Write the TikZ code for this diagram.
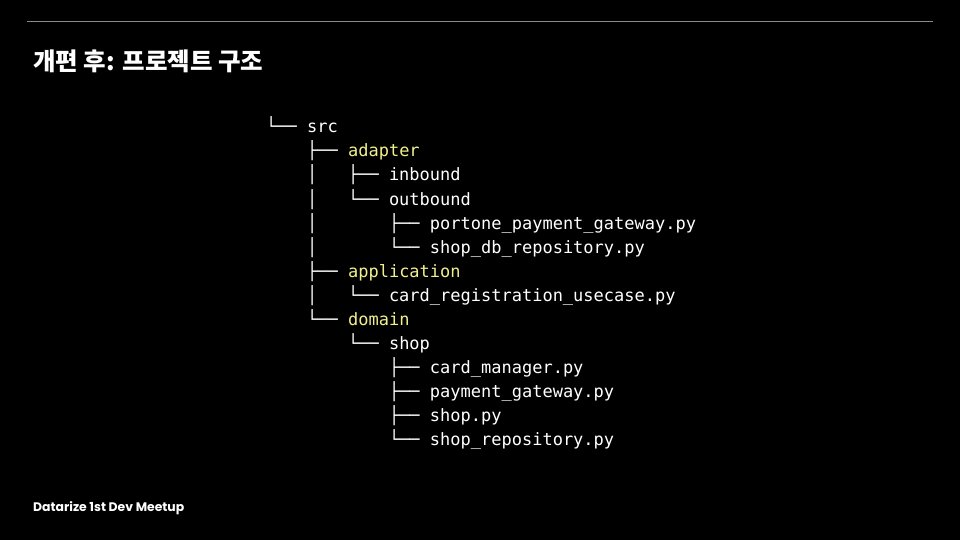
\documentclass[tikz,border=0pt]{standalone}
\usepackage{fontspec}
\newfontfamily\krfont{Noto Sans CJK KR}
\newfontfamily\monofont{DejaVu Sans Mono}
\newfontfamily\footfont{Poppins}
\definecolor{folder}{HTML}{F2F08C}
\definecolor{rule}{HTML}{8A8A8A}
\tikzset{
  treeline/.style={anchor=base west, inner sep=0pt, text=white,
    font=\monofont\fontsize{17}{24}\selectfont},
  titletext/.style={anchor=base west, inner sep=0pt, text=white,
    font=\krfont\bfseries\fontsize{24.5}{28}\selectfont},
  foottext/.style={anchor=base west, inner sep=0pt, text=white,
    font=\footfont\bfseries\fontsize{12.4}{14}\selectfont}
}
\newcommand{\fd}[1]{\textcolor{folder}{#1}}
\begin{document}
\begin{tikzpicture}[x=1pt,y=-1pt]
\fill[black] (0,0) rectangle (960,540);
\useasboundingbox (0,0) rectangle (960,540);
\coordinate (ruleL) at (27,22);
\coordinate (ruleR) at (933,22);
\draw[rule, line width=1pt] (ruleL) -- (ruleR);
\node[titletext] (title) at (33,70.5) {개편 후: 프로젝트 구조};
\node[foottext] (foot) at (33,511) {Datarize 1st Dev Meetup};
\node[treeline] (l1)  at (266,133) {└── src};
\node[treeline] (l2)  at (266,157) {\ \ \ \ ├── \fd{adapter}};
\node[treeline] (l3)  at (266,181) {\ \ \ \ │\ \ \ ├── inbound};
\node[treeline] (l4)  at (266,205) {\ \ \ \ │\ \ \ └── outbound};
\node[treeline] (l5)  at (266,229) {\ \ \ \ │\ \ \ \ \ \ \ ├── portone\_payment\_gateway.py};
\node[treeline] (l6)  at (266,253) {\ \ \ \ │\ \ \ \ \ \ \ └── shop\_db\_repository.py};
\node[treeline] (l7)  at (266,277) {\ \ \ \ ├── \fd{application}};
\node[treeline] (l8)  at (266,301) {\ \ \ \ │\ \ \ └── card\_registration\_usecase.py};
\node[treeline] (l9)  at (266,325) {\ \ \ \ └── \fd{domain}};
\node[treeline] (l10) at (266,349) {\ \ \ \ \ \ \ \ └── shop};
\node[treeline] (l11) at (266,373) {\ \ \ \ \ \ \ \ \ \ \ \ ├── card\_manager.py};
\node[treeline] (l12) at (266,397) {\ \ \ \ \ \ \ \ \ \ \ \ ├── payment\_gateway.py};
\node[treeline] (l13) at (266,421) {\ \ \ \ \ \ \ \ \ \ \ \ ├── shop.py};
\node[treeline] (l14) at (266,445) {\ \ \ \ \ \ \ \ \ \ \ \ └── shop\_repository.py};
\end{tikzpicture}
\end{document}
